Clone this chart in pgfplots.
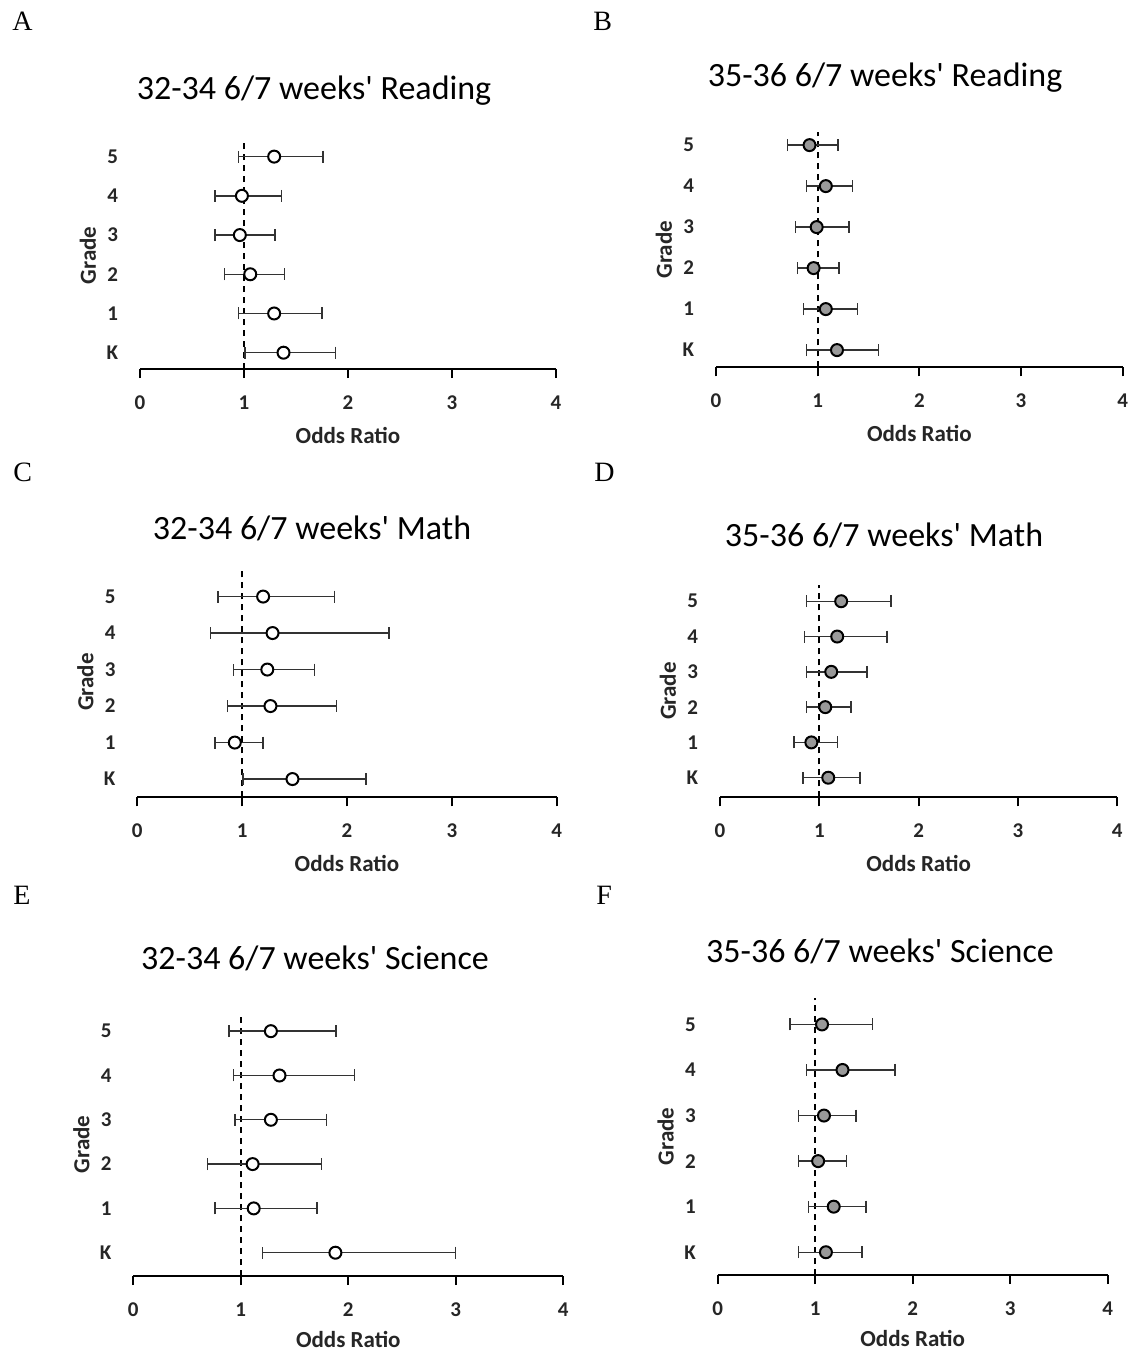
\documentclass[border=0pt]{standalone}
\usepackage{pgfplots}
\usepackage{pgfplotstable}
\usepackage{fontspec}
\pgfplotsset{compat=1.18}
\setmainfont{Carlito}
\newfontfamily\letterfont{Liberation Serif}

% columns: g = grade position (K=0 ... 5=5), or = odds ratio, lo/hi = CI
\pgfplotstableread{
g or lo hi
0 1.38 1.01 1.88
1 1.29 0.945 1.75
2 1.06 0.81 1.39
3 0.96 0.72 1.30
4 0.98 0.72 1.36
5 1.29 0.945 1.76
}\dataA
\pgfplotstableread{
g or lo hi
0 1.19 0.89 1.60
1 1.08 0.86 1.39
2 0.96 0.80 1.21
3 0.99 0.78 1.31
4 1.08 0.89 1.34
5 0.92 0.705 1.20
}\dataB
\pgfplotstableread{
g or lo hi
0 1.48 1.01 2.18
1 0.93 0.74 1.20
2 1.27 0.86 1.90
3 1.24 0.92 1.69
4 1.29 0.70 2.40
5 1.20 0.77 1.88
}\dataC
\pgfplotstableread{
g or lo hi
0 1.09 0.835 1.41
1 0.92 0.745 1.18
2 1.06 0.87 1.32
3 1.12 0.87 1.48
4 1.18 0.85 1.68
5 1.22 0.87 1.72
}\dataD
\pgfplotstableread{
g or lo hi
0 1.88 1.20 3.00
1 1.12 0.76 1.71
2 1.11 0.69 1.75
3 1.28 0.945 1.80
4 1.36 0.93 2.06
5 1.28 0.89 1.885
}\dataE
\pgfplotstableread{
g or lo hi
0 1.11 0.83 1.48
1 1.19 0.93 1.52
2 1.03 0.83 1.32
3 1.09 0.83 1.42
4 1.28 0.91 1.82
5 1.07 0.74 1.59
}\dataF

\pgfplotsset{
  forestplot/.style={
    scale only axis, anchor=south west, clip=false,
    xmin=0, xmax=4, xtick={0,1,2,3,4},
    ytick={0,1,2,3,4,5}, yticklabels={K,1,2,3,4,5},
    axis x line*=bottom, axis y line*=left,
    x axis line style={-, line width=1pt, black},
    y axis line style={draw=none},
    xtick style={line width=1pt, black},
    ytick style={draw=none},
    tick align=outside, major tick length=4.5pt,
    tick label style={font=\bfseries\fontsize{10.5}{12}\selectfont, text=black!85},
    /pgf/number format/assume math mode=true,
    xticklabel style={anchor=north, inner sep=0pt, yshift=-8.5pt},
    yticklabel style={anchor=east, inner sep=0pt, xshift=-6.25pt},
    xlabel={Odds Ratio}, ylabel={Grade},
    xlabshift/.initial=33pt,
    every axis x label/.style={at={([yshift=-\pgfkeysvalueof{/pgfplots/xlabshift}]axis description cs:0.5,0)}, anchor=center, font=\bfseries\fontsize{11.5}{14}\selectfont, text=black!85},
    every axis y label/.style={at={([xshift=-26pt]axis description cs:0,0.5)}, anchor=center, rotate=90, font=\bfseries\fontsize{11.5}{14}\selectfont, text=black!85},
  },
  refline/.style={black, line width=1pt, dash pattern=on 3pt off 2.5pt},
  cis/.style={only marks, mark=*, mark size=3pt,
    error bars/x dir=both, error bars/x explicit,
    error bars/error bar style={line width=0.7pt, black!80},
    error bars/error mark options={line width=0.7pt, black!80, mark size=3pt, rotate=90}},
  openmark/.style={mark options={fill=white, draw=black, line width=1pt}},
  graymark/.style={mark options={fill=black!40, draw=black, line width=1pt}},
}

\newcommand{\forestdata}[2]{%
  \addplot[#2, cis] table[x=or, y=g,
    x error plus expr=\thisrow{hi}-\thisrow{or},
    x error minus expr=\thisrow{or}-\thisrow{lo}] {#1};}

\begin{document}
\begin{tikzpicture}
\useasboundingbox (0,0) rectangle (565.5pt,-675.5pt);
\fill[white] (0,0) rectangle (565.5pt,-675.5pt);

% Panel letters
\begin{scope}[every node/.style={anchor=base west, inner sep=0pt, font=\letterfont\fontsize{14}{15}\selectfont}]
\node at ({12*0.5pt},{-30*0.5pt}) {A};
\node at ({593*0.5pt},{-30*0.5pt}) {B};
\node at ({13*0.5pt},{-481*0.5pt}) {C};
\node at ({594*0.5pt},{-481*0.5pt}) {D};
\node at ({13*0.5pt},{-904*0.5pt}) {E};
\node at ({596*0.5pt},{-904*0.5pt}) {F};
\end{scope}

% Titles
\begin{scope}[every node/.style={anchor=base, inner sep=0pt, font=\fontsize{17}{20}\selectfont}]
\node at ({314*0.5pt},{-99*0.5pt}) {32-34 6/7 weeks\textquotesingle\ Reading};
\node at ({885*0.5pt},{-86*0.5pt}) {35-36 6/7 weeks\textquotesingle\ Reading};
\node at ({312*0.5pt},{-539*0.5pt}) {32-34 6/7 weeks\textquotesingle\ Math};
\node at ({884*0.5pt},{-546*0.5pt}) {35-36 6/7 weeks\textquotesingle\ Math};
\node at ({315*0.5pt},{-969*0.5pt}) {32-34 6/7 weeks\textquotesingle\ Science};
\node at ({880*0.5pt},{-962*0.5pt}) {35-36 6/7 weeks\textquotesingle\ Science};
\end{scope}

% A
\begin{axis}[forestplot, at={(70pt,-184.5pt)}, width=208pt, height=113.65pt, ymin=-0.416, ymax=5.38]
\addplot[refline] coordinates {(1,-0.416) (1,5.38)};
\forestdata{\dataA}{openmark}
\end{axis}
% B
\begin{axis}[forestplot, at={(358pt,-183.65pt)}, width=203.35pt, height=117.65pt, ymin=-0.42, ymax=5.32]
\addplot[refline] coordinates {(1,-0.42) (1,5.32)};
\forestdata{\dataB}{graymark}
\end{axis}
% C
\begin{axis}[forestplot, at={(68.65pt,-398.65pt)}, width=209.7pt, height=115.15pt, ymin=-0.50, ymax=5.81]
\addplot[refline] coordinates {(1,-0.50) (1,5.81)};
\forestdata{\dataC}{openmark}
\end{axis}
% D
\begin{axis}[forestplot, at={(360pt,-398.65pt)}, width=198.65pt, height=106.15pt, ymin=-0.555, ymax=5.46]
\addplot[refline] coordinates {(1,-0.555) (1,5.46)};
\forestdata{\dataD}{graymark}
\end{axis}
% E
\begin{axis}[forestplot, xlabshift=31.5pt, at={(66.65pt,-638pt)}, width=215pt, height=131.5pt, ymin=-0.526, ymax=5.41]
\addplot[refline] coordinates {(1,-0.526) (1,5.41)};
\forestdata{\dataE}{openmark}
\end{axis}
% F
\begin{axis}[forestplot, xlabshift=31.5pt, at={(358.85pt,-637.5pt)}, width=195pt, height=138.5pt, ymin=-0.50, ymax=5.58]
\addplot[refline] coordinates {(1,-0.50) (1,5.58)};
\forestdata{\dataF}{graymark}
\end{axis}
\end{tikzpicture}
\end{document}
